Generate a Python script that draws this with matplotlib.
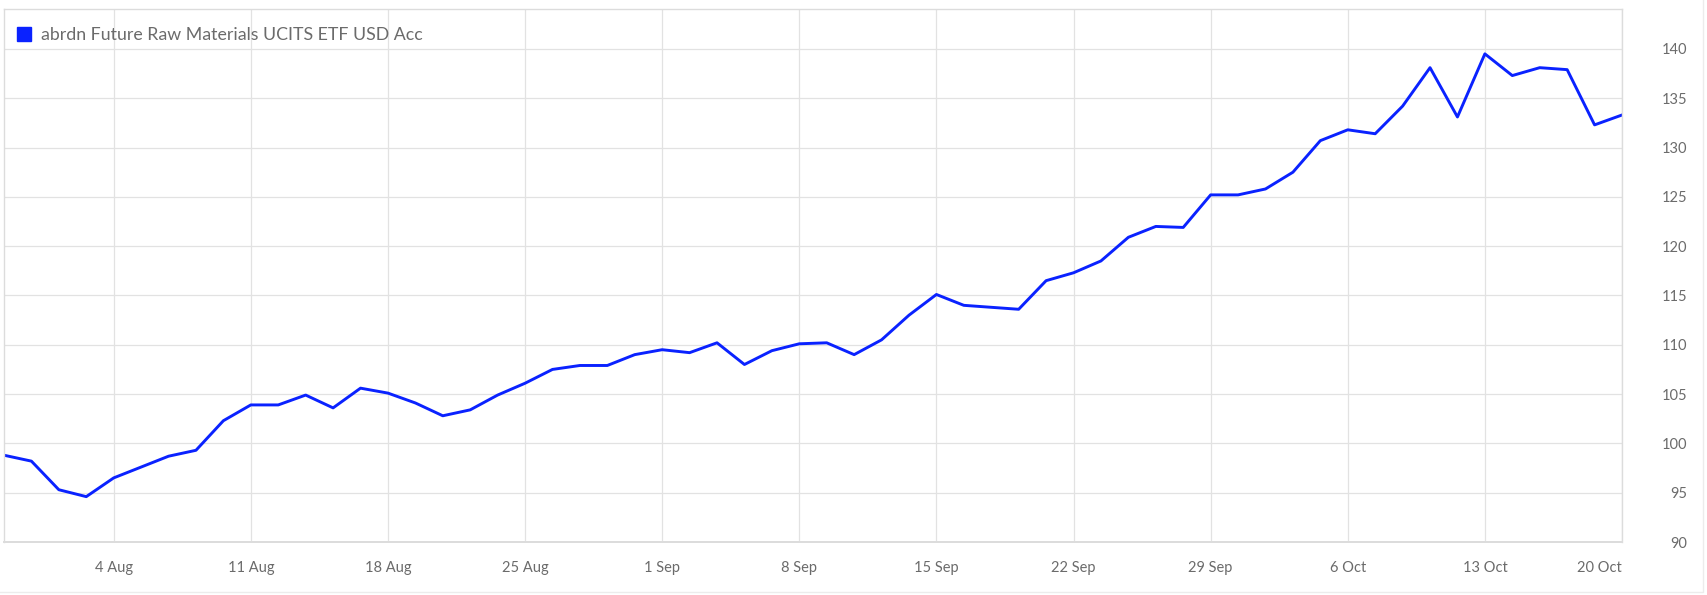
import pandas as pd
import matplotlib.pyplot as plt
from matplotlib.lines import Line2D
from matplotlib.patches import Rectangle

plt.rcParams['font.family'] = ['Lato', 'DejaVu Sans']

# datos (días hábiles)
fechas = pd.bdate_range('2025-07-29', '2025-10-20')
precios = [98.8, 98.2, 95.3, 94.6, 96.5, 97.6, 98.7, 99.3, 102.3, 103.9,
           103.9, 104.9, 103.6, 105.6, 105.1, 104.1, 102.8, 103.4, 104.9, 106.1,
           107.5, 107.9, 107.9, 109.0, 109.5, 109.2, 110.2, 108.0, 109.4, 110.1,
           110.2, 109.0, 110.5, 113.0, 115.1, 114.0, 113.8, 113.6, 116.5, 117.3,
           118.5, 120.9, 122.0, 121.9, 125.2, 125.2, 125.8, 127.5, 130.7, 131.8,
           131.4, 134.2, 138.1, 133.1, 139.5, 137.3, 138.1, 137.9, 132.3, 133.3]
serie = 'abrdn Future Raw Materials UCITS ETF USD Acc'
yticks = [90, 95, 100, 105, 110, 115, 120, 125, 130, 135, 140]

azul = '#0a22ff'
gris_txt = '#6b6b6b'
gris_rej = '#e2e2e2'

fig = plt.figure(figsize=(17.07, 5.95), dpi=100)
ax = fig.add_axes([4 / 1707, 1 - 542 / 595, 1618 / 1707, 533 / 595])

x = list(range(len(fechas)))
ax.plot(x, precios, color=azul, lw=2.1)

# ticks en los lunes
lunes = [i for i, d in enumerate(fechas) if d.weekday() == 0]
ax.set_xticks(lunes)
ax.set_xticklabels([f"{fechas[i].day} {fechas[i].strftime('%b')}" for i in lunes])
ax.set_xlim(0, len(fechas) - 1)

ax.set_ylim(90, 144.05)
ax.set_yticks(yticks)
ax.yaxis.tick_right()
ax.tick_params(axis='y', length=0, pad=47, labelsize=10.5, colors=gris_txt)
ax.tick_params(axis='x', length=0, pad=14, labelsize=10.5, colors=gris_txt)
for lbl in ax.get_yticklabels():
    lbl.set_ha('right')
ax.get_xticklabels()[-1].set_ha('right')

ax.grid(True, color=gris_rej, lw=0.9)
ax.set_axisbelow(True)
for s in ax.spines.values():
    s.set_color('#dcdcdc')
    s.set_linewidth(1.0)
ax.spines['bottom'].set_linewidth(1.4)

# leyenda
h = Line2D([], [], marker='s', ls='', color=azul, markersize=10.5)
ax.legend([h], [serie], loc='center left', bbox_to_anchor=(0.008, 0.951),
          frameon=False, fontsize=12.8, handlelength=0.85, handletextpad=0.5,
          borderpad=0, borderaxespad=0, labelcolor=gris_txt)

# marco exterior suave
fig.add_artist(Rectangle((-0.01, 3 / 595), 1 + 0.01 - 4 / 1707, 1.02,
                         transform=fig.transFigure, fill=False,
                         edgecolor='#ececec', lw=1))

fig.savefig('out.png', dpi=100, facecolor='white')
